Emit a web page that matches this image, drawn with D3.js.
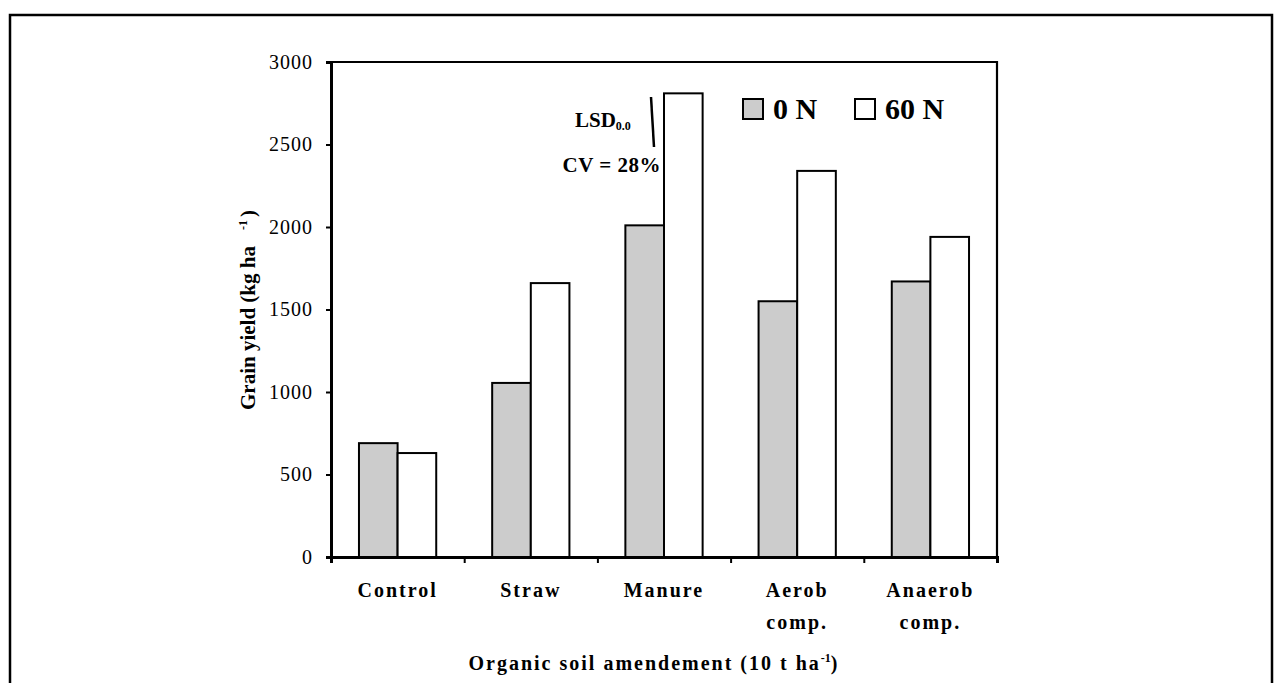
<!DOCTYPE html>
<html>
<head>
<meta charset="utf-8">
<script src="https://cdn.jsdelivr.net/npm/d3@7"></script>
<style>
  body { margin: 0; background: #fff; }
  svg text { font-family: "Liberation Serif", "Times New Roman", serif; fill: #000; }
</style>
</head>
<body>
<div id="chart"></div>
<script>
// data
let categories = ['Control', 'Straw', 'Manure', 'Aerob comp.', 'Anaerob comp.'];
let series = ['0 N', '60 N'];
let yield0N = [690, 1055, 2010, 1550, 1670];
let yield60N = [630, 1660, 2810, 2340, 1940];
let yTicks = [0, 500, 1000, 1500, 2000, 2500, 3000];
let colors = { '0 N': '#cccccc', '60 N': '#ffffff' };

let W = 1283, H = 683;
let plot = { left: 331, right: 997, top: 62, bottom: 557 };

let svg = d3.select("#chart").append("svg")
    .attr("width", W)
    .attr("height", H);

// outer frame
svg.append("rect")
    .attr("x", 10).attr("y", 15)
    .attr("width", 1262).attr("height", 700)
    .attr("fill", "none")
    .attr("stroke", "#000")
    .attr("stroke-width", 2.5);

let x = d3.scaleBand()
    .domain(categories)
    .range([plot.left, plot.right])
    .paddingInner(0.42)
    .paddingOuter(0.21);

let xSub = d3.scaleBand()
    .domain(series)
    .range([0, x.bandwidth()]);

let xEdge = d3.scaleLinear()
    .domain([0, categories.length])
    .range([plot.left, plot.right]);

let y = d3.scaleLinear()
    .domain([0, 3000])
    .range([plot.bottom, plot.top]);

// plot frame (top and right)
svg.append("path")
    .attr("d", "M" + plot.left + "," + plot.top + "H" + plot.right + "V" + plot.bottom)
    .attr("fill", "none")
    .attr("stroke", "#000")
    .attr("stroke-width", 2.2);

// bars
let rows = categories.map((c, i) => ({ cat: c, values: [
    { s: '0 N', v: yield0N[i] },
    { s: '60 N', v: yield60N[i] }
]}));

let groups = svg.selectAll("g.grp")
    .data(rows)
    .enter().append("g")
    .attr("class", "grp")
    .attr("transform", d => "translate(" + x(d.cat) + ",0)");

groups.selectAll("rect")
    .data(d => d.values)
    .enter().append("rect")
    .attr("x", d => xSub(d.s))
    .attr("y", d => y(d.v))
    .attr("width", xSub.bandwidth())
    .attr("height", d => y(0) - y(d.v))
    .attr("fill", d => colors[d.s])
    .attr("stroke", "#000")
    .attr("stroke-width", 2);

// y axis
let yAxis = svg.append("g")
    .attr("transform", "translate(" + plot.left + ",0)")
    .call(d3.axisLeft(y).tickValues(yTicks).tickSize(5).tickPadding(13).tickFormat(d3.format("d")));
yAxis.select(".domain").attr("stroke-width", 3);
yAxis.selectAll(".tick line").attr("stroke-width", 2);
yAxis.selectAll("text")
    .style("font-size", "20px")
    .style("letter-spacing", "1px")
    .attr("font-family", null);

// x axis: boundary ticks
let xAxis = svg.append("g")
    .attr("transform", "translate(0," + plot.bottom + ")")
    .call(d3.axisBottom(xEdge).tickValues(d3.range(categories.length + 1)).tickSize(6).tickFormat(""));
xAxis.select(".domain").attr("stroke-width", 3);
xAxis.selectAll(".tick line").attr("stroke-width", 2);

// category labels
let labels = svg.append("g").selectAll("text")
    .data(categories)
    .enter().append("text")
    .attr("x", d => x(d) + x.bandwidth() / 2)
    .attr("y", 597)
    .attr("text-anchor", "middle")
    .style("font-size", "20px")
    .style("font-weight", "bold")
    .style("letter-spacing", "2px");
labels.each(function (d) {
    let parts = d.split(" ");
    let t = d3.select(this);
    parts.forEach((p, j) => {
        t.append("tspan")
            .attr("x", x(d) + x.bandwidth() / 2)
            .attr("dy", j === 0 ? 0 : 32)
            .text(p);
    });
});

// x title
let xt = svg.append("text")
    .attr("x", 654)
    .attr("y", 670)
    .attr("text-anchor", "middle")
    .style("font-size", "20px")
    .style("font-weight", "bold")
    .style("letter-spacing", "2px");
xt.append("tspan").text("Organic soil amendement (10 t ha");
xt.append("tspan").attr("dy", -8).style("font-size", "12px").style("letter-spacing", "0px").text("-1");
xt.append("tspan").attr("dy", 8).text(")");

// y title
let yt = svg.append("text")
    .attr("transform", "translate(255,310) rotate(-90)")
    .attr("text-anchor", "middle")
    .style("font-size", "21px")
    .style("font-weight", "bold");
yt.append("tspan").text("Grain yield (kg ha");
yt.append("tspan").attr("dx", 16).attr("dy", -8).style("font-size", "12px").text("-1");
yt.append("tspan").attr("dx", 3).attr("dy", 8).text(")");

// legend
let legend = svg.append("g");
let legX = [743, 855];
series.forEach((s, i) => {
    legend.append("rect")
        .attr("x", legX[i]).attr("y", 99)
        .attr("width", 20).attr("height", 20)
        .attr("fill", colors[s])
        .attr("stroke", "#000")
        .attr("stroke-width", 2);
    legend.append("text")
        .attr("x", legX[i] + 30)
        .attr("y", 119)
        .style("font-size", "30px")
        .style("font-weight", "bold")
        .text(s);
});

// LSD annotation
let lsd = svg.append("text")
    .attr("x", 575).attr("y", 127)
    .style("font-size", "21px")
    .style("font-weight", "bold");
lsd.append("tspan").text("LSD");
lsd.append("tspan").attr("dy", 3).style("font-size", "12px").text("0.0");
svg.append("line")
    .attr("x1", 651).attr("y1", 97)
    .attr("x2", 654).attr("y2", 147)
    .attr("stroke", "#000")
    .attr("stroke-width", 2.5);
svg.append("text")
    .attr("x", 661).attr("y", 172)
    .attr("text-anchor", "end")
    .style("font-size", "21px")
    .style("font-weight", "bold")
    .style("letter-spacing", "0.5px")
    .text("CV = 28%");
</script>
</body>
</html>
